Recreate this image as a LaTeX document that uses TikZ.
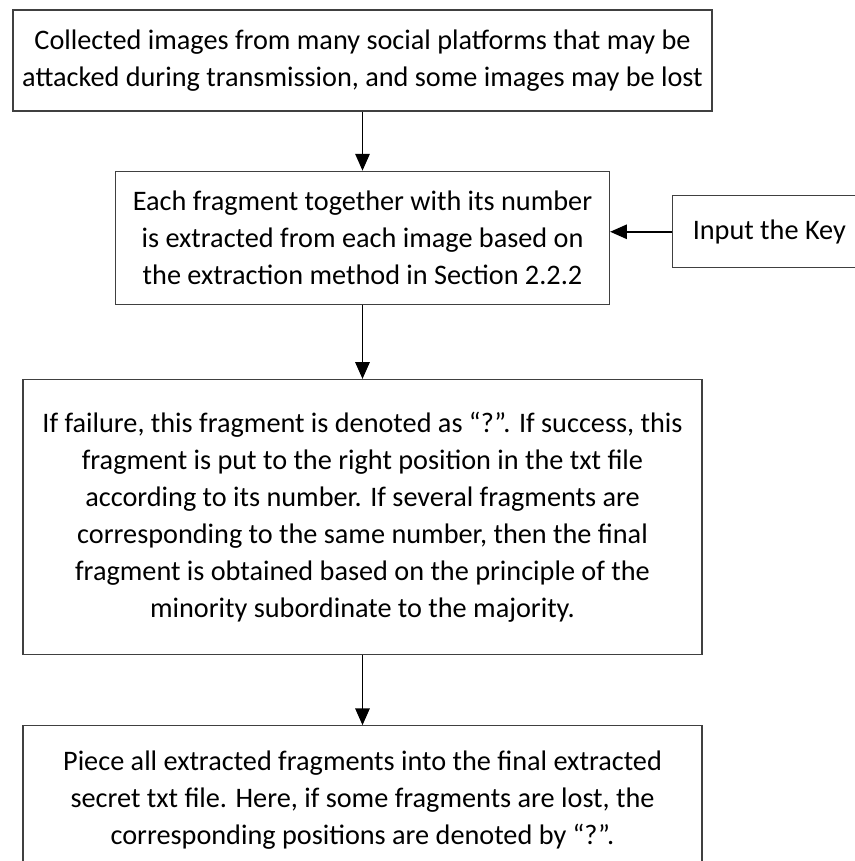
\documentclass[tikz,border=0pt]{standalone}
\usepackage{fontspec}
\setmainfont{Carlito}
\usepackage{tikz}
\usetikzlibrary{arrows.meta, positioning}

\begin{document}
\begin{tikzpicture}[
        node distance=1.5cm,
        box/.style={rectangle, draw=black!75, line width=0.9pt, align=center, inner sep=2pt,
            font=\fontsize{20.1}{26.4}\selectfont},
        arrow/.style={-{Triangle[width=0.36cm, length=0.42cm]}, line width=1.2pt}
    ]
        \useasboundingbox (0,0) rectangle (21.35,-21.525);
        % Nodes
        \node[box, minimum width=17.475cm, minimum height=2.525cm] (collect) at (9.0625,-1.5125)
            {Collected images from many social platforms that may be\\attacked during transmission, and some images may be lost};
        \node[box, minimum width=12.35cm, minimum height=3.325cm, below=1.475cm of collect] (extract)
            {Each fragment together with its number\\is extracted from each image based on\\the extraction method in Section 2.2.2};
        \node[box, minimum width=5cm, minimum height=1.8cm, right=1.55cm of extract, yshift=0.15cm,
            text width=4.6cm, align=flush left, inner xsep=0.5cm] (key)
            {Input the Key};
        \node[box, minimum width=16.975cm, minimum height=6.875cm, below=1.85cm of extract] (arrange)
            {If failure, this fragment is denoted as ``?''. If success, this\\fragment is put to the right position in the txt file\\according to its number. If several fragments are\\corresponding to the same number, then the final\\fragment is obtained based on the principle of the\\minority subordinate to the majority.};
        \node[box, minimum width=16.975cm, minimum height=3.7cm, below=1.75cm of arrange] (piece)
            {Piece all extracted fragments into the final extracted\\secret txt file. Here, if some fragments are lost, the\\corresponding positions are denoted by ``?''.};

        % Arrows
        \draw[arrow] (collect) -- (extract);
        \draw[arrow] (key.west) -- (key.west -| extract.east);
        \draw[arrow] (extract) -- (arrange);
        \draw[arrow] (arrange) -- (piece);
    \end{tikzpicture}
\end{document}
